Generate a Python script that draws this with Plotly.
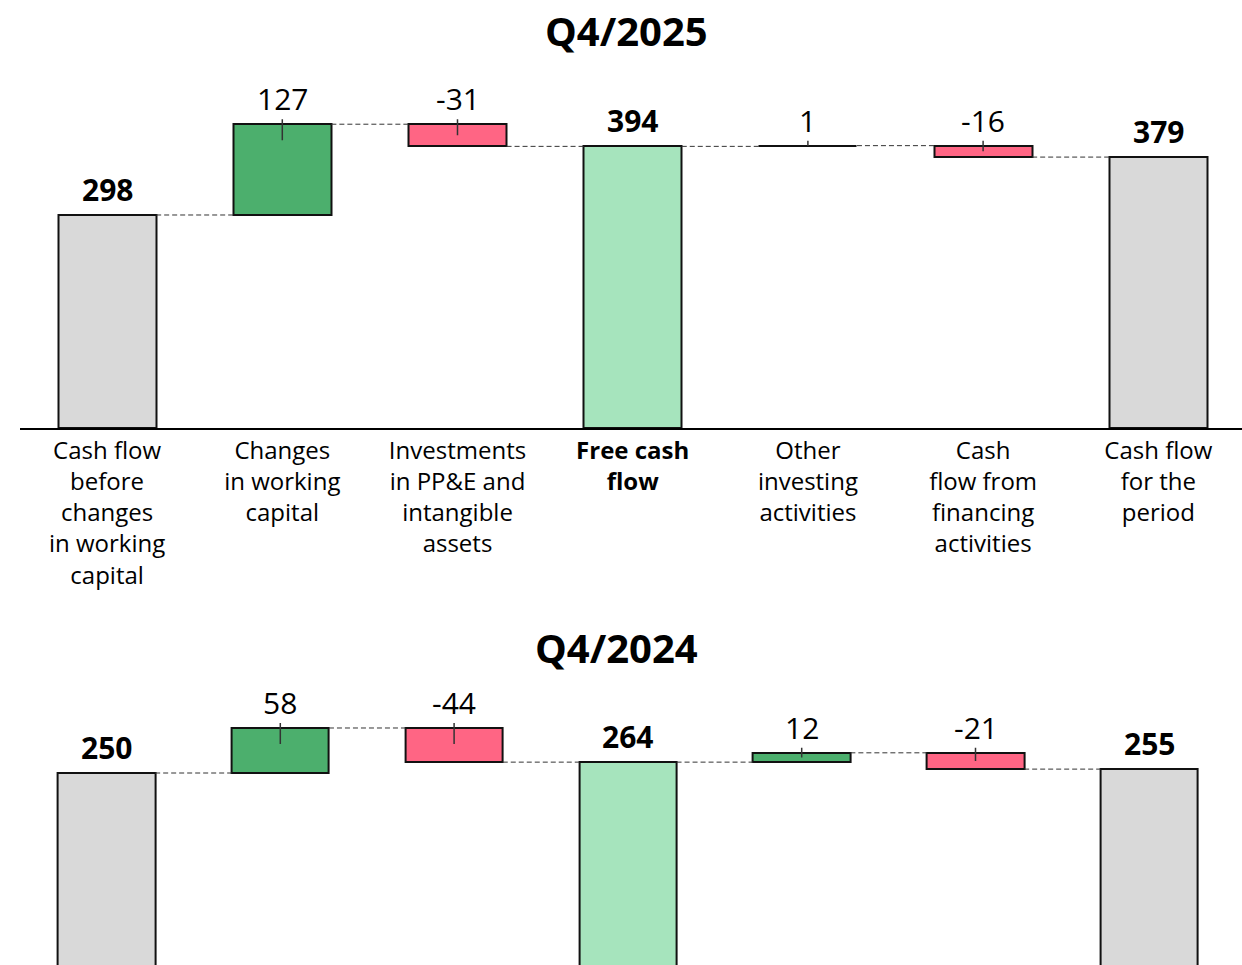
import plotly.graph_objects as go

# ---- data -------------------------------------------------------------
categories = [
    "Cash flow<br>before<br>changes<br>in working<br>capital",
    "Changes<br>in working<br>capital",
    "Investments<br>in PP&E and<br>intangible<br>assets",
    "<b>Free cash<br>flow</b>",
    "Other<br>investing<br>activities",
    "Cash<br>flow from<br>financing<br>activities",
    "Cash flow<br>for the<br>period",
]
# "total" = starting/ending balance, "subtotal" = free cash flow, "relative" = movement
measures = ["total", "relative", "relative", "subtotal", "relative", "relative", "total"]
values_q4_2025 = [298, 127, -31, 394, 1, -16, 379]
values_q4_2024 = [250, 58, -44, 264, 12, -21, 255]
titles = ["Q4/2025", "Q4/2024"]

# ---- style ------------------------------------------------------------
W, H = 1242, 965
FONT = "Open Sans, Lato, DejaVu Sans, sans-serif"
COL_TOTAL = "#d9d9d9"
COL_SUB = "#a6e4bd"
COL_UP = "#4caf6d"
COL_DOWN = "#ff6584"
BAR_W = 0.56

fig = go.Figure()


def add_waterfall(values, xa, ya, px_per_unit):
    xs = list(range(len(values)))
    bases, heights, colors, ends = [], [], [], []
    running = 0
    for m, v in zip(measures, values):
        if m in ("total", "subtotal"):
            bases.append(0)
            heights.append(v)
            running = v
            colors.append(COL_TOTAL if m == "total" else COL_SUB)
        else:
            bases.append(running if v >= 0 else running + v)
            heights.append(abs(v))
            running += v
            colors.append(COL_UP if v >= 0 else COL_DOWN)
        ends.append(running)

    fig.add_trace(go.Bar(
        x=xs, y=heights, base=bases, width=BAR_W,
        marker=dict(color=colors, line=dict(color="#111111", width=2)),
        xaxis=xa, yaxis=ya, hoverinfo="skip", showlegend=False,
    ))

    # dashed connectors between neighbouring bars at the running level
    cx, cy = [], []
    for i in range(len(values) - 1):
        cx += [i + BAR_W / 2, i + 1 - BAR_W / 2, None]
        cy += [ends[i], ends[i], None]
    fig.add_trace(go.Scatter(
        x=cx, y=cy, mode="lines",
        line=dict(color="#333333", width=1, dash="5px,3px"),
        xaxis=xa, yaxis=ya, hoverinfo="skip", showlegend=False,
    ))

    # short marker line across the top edge of each movement bar
    tx, ty, up, down = [], [], [], []
    for i, (m, v) in enumerate(zip(measures, values)):
        if m == "relative":
            top = bases[i] + heights[i]
            tx.append(i)
            ty.append(top)
            up.append(5 / px_per_unit)
            down.append(min(16 / px_per_unit, heights[i] / 2))
    fig.add_trace(go.Scatter(
        x=tx, y=ty, mode="markers",
        marker=dict(size=1, color="rgba(0,0,0,0)"),
        error_y=dict(type="data", symmetric=False, array=up, arrayminus=down,
                     width=0, thickness=1.5, color="#333333"),
        xaxis=xa, yaxis=ya, hoverinfo="skip", showlegend=False,
    ))

    # value labels above each bar
    for i, (m, v) in enumerate(zip(measures, values)):
        top = bases[i] + heights[i]
        bold = m != "relative"
        fig.add_annotation(
            x=i, y=top, xref=xa, yref=ya, yanchor="bottom", yshift=3,
            text=f"<b>{v}</b>" if bold else str(v), showarrow=False,
            font=dict(family=FONT, size=30, color="#000000"),
        )


# upper chart geometry
top_scale = 0.7148
top_ydom = [1 - 428 / H, 1 - 80 / H]
top_yr = [0, (428 - 80) / top_scale]
add_waterfall(values_q4_2025, "x", "y", top_scale)

# lower chart geometry (runs past the bottom of the page)
bot_scale = 0.776
bot_ydom = [0, 1 - 690 / H]
bot_y0 = (967 - 965) / bot_scale
bot_yr = [bot_y0, bot_y0 + (965 - 690) / bot_scale]
add_waterfall(values_q4_2024, "x2", "y2", bot_scale)

tick_font = dict(family=FONT, size=24, color="#000000")
fig.update_layout(
    width=W, height=H,
    margin=dict(l=0, r=0, t=0, b=0, autoexpand=False),
    paper_bgcolor="white", plot_bgcolor="white",
    bargap=0,
    xaxis=dict(domain=[19.5 / W, 1], range=[-0.5, (W - 19.5) / 175.2 - 0.5],
               tickvals=list(range(len(categories))), ticktext=categories,
               tickfont=tick_font, showline=True, linecolor="#000000", linewidth=2,
               ticks="", showgrid=False, zeroline=False, fixedrange=True,
               automargin=False, anchor="y"),
    yaxis=dict(domain=top_ydom, range=top_yr, visible=False, fixedrange=True,
               automargin=False, anchor="x"),
    xaxis2=dict(domain=[19.6 / W, 1], range=[-0.5, (W - 19.6) / 173.8 - 0.5],
                showticklabels=False, showline=False, ticks="", showgrid=False,
                zeroline=False, fixedrange=True, automargin=False, anchor="y2"),
    yaxis2=dict(domain=bot_ydom, range=bot_yr, visible=False, fixedrange=True,
                automargin=False, anchor="x2"),
)

# chart titles
for text, cx, cy in [(titles[0], 626, 30), (titles[1], 616, 647)]:
    fig.add_annotation(
        x=cx / W, y=1 - cy / H, xref="paper", yref="paper",
        xanchor="center", yanchor="middle", showarrow=False,
        text=f"<b>{text}</b>",
        font=dict(family=FONT, size=40, color="#000000"),
    )

fig.write_html("out.html", config={"displayModeBar": False})
